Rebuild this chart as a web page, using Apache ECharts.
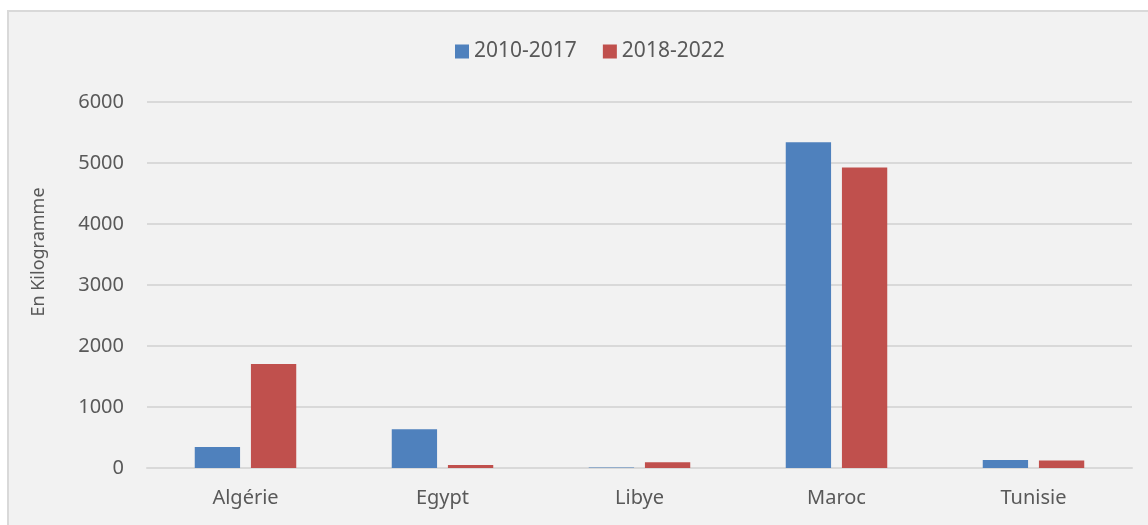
<!DOCTYPE html>
<html>
<head>
<meta charset="utf-8">
<script src="https://cdn.jsdelivr.net/npm/echarts@6/dist/echarts.min.js"></script>
<style>
  html, body { margin: 0; padding: 0; background: #ffffff; }
  #chart { width: 1148px; height: 525px; }
</style>
</head>
<body>
<div id="chart"></div>
<script>
const countries = ['Algérie', 'Egypt', 'Libye', 'Maroc', 'Tunisie'];
const periodA = [345, 635, 8, 5340, 130];
const periodB = [1705, 48, 95, 4925, 122];
const seriesNames = ['2010-2017', '2018-2022'];
const yTitle = 'En Kilogramme';

const textColor = '#595959';
const fontFamily = '"Noto Sans", "Open Sans", sans-serif';

const myChart = echarts.init(document.getElementById('chart'));

const option = {
  animation: false,
  textStyle: { fontFamily },
  graphic: [
    {
      type: 'rect',
      shape: { x: 8, y: 11, width: 1150, height: 520 },
      style: { fill: '#f2f2f2', stroke: '#d9d9d9', lineWidth: 2 },
      z: -10,
    },
    {
      // y axis title, sits a bit above the plot middle like the original
      type: 'text',
      x: 39,
      y: 252,
      rotation: Math.PI / 2,
      style: {
        text: yTitle,
        fill: textColor,
        font: '18px "Noto Sans", sans-serif',
        align: 'center',
        verticalAlign: 'middle',
      },
    },
  ],
  legend: {
    data: seriesNames,
    top: 36,
    left: 450,
    icon: 'rect',
    itemWidth: 14,
    itemHeight: 14,
    itemGap: 26,
    textStyle: { color: textColor, fontSize: 21, fontFamily },
  },
  grid: {
    left: 147,
    right: 16,
    top: 102,
    bottom: 57,
  },
  xAxis: {
    type: 'category',
    data: countries,
    axisLine: { lineStyle: { color: '#d9d9d9', width: 2 } },
    axisTick: { show: false },
    axisLabel: { color: textColor, fontSize: 20, margin: 20, fontFamily },
  },
  yAxis: {
    type: 'value',
    min: 0,
    max: 6000,
    interval: 1000,
    axisLine: { show: false },
    axisTick: { show: false },
    axisLabel: {
      color: textColor,
      fontSize: 20,
      margin: 23,
      fontFamily,
      formatter: (v) => String(v),
    },
    splitLine: { lineStyle: { color: '#d9d9d9', width: 2 } },
  },
  series: [
    {
      name: seriesNames[0],
      type: 'bar',
      data: periodA,
      barWidth: '23%',
      barGap: '24%',
      itemStyle: { color: '#4f81bd' },
    },
    {
      name: seriesNames[1],
      type: 'bar',
      data: periodB,
      barWidth: '23%',
      barGap: '24%',
      itemStyle: { color: '#c0504d' },
    },
  ],
};

window.addEventListener('resize', () => {
  myChart.resize();
});
myChart.setOption(option);
</script>
</body>
</html>
